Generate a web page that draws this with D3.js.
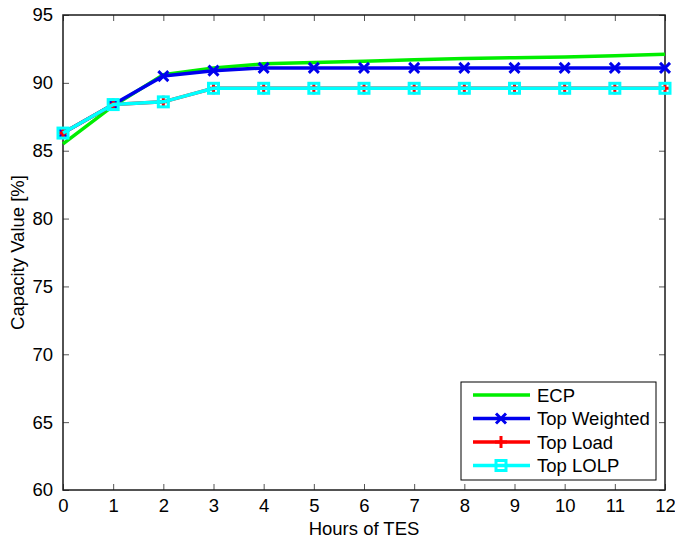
<!DOCTYPE html>
<html>
<head>
<meta charset="utf-8">
<script src="https://cdn.jsdelivr.net/npm/d3@7"></script>
<style>
  body { margin: 0; background: #fff; }
  text { font-family: "Liberation Sans", Arial, sans-serif; }
</style>
</head>
<body>
<div id="chart"></div>
<script>
const hours = [0, 1, 2, 3, 4, 5, 6, 7, 8, 9, 10, 11, 12];
const ecp = [85.5, 88.3, 90.6, 91.1, 91.4, 91.5, 91.6, 91.7, 91.8, 91.85, 91.9, 92.0, 92.1];
const topWeighted = [86.3, 88.4, 90.5, 90.9, 91.1, 91.1, 91.1, 91.1, 91.1, 91.1, 91.1, 91.1, 91.1];
const topLoad = [86.3, 88.4, 88.6, 89.6, 89.6, 89.6, 89.6, 89.6, 89.6, 89.6, 89.6, 89.6, 89.6];
const topLolp = [86.3, 88.4, 88.6, 89.6, 89.6, 89.6, 89.6, 89.6, 89.6, 89.6, 89.6, 89.6, 89.6];
const yTicks = [60, 65, 70, 75, 80, 85, 90, 95];

const series = [
  { name: 'ECP', values: ecp, color: '#00ee00', marker: 'none' },
  { name: 'Top Weighted', values: topWeighted, color: '#0000ee', marker: 'x' },
  { name: 'Top Load', values: topLoad, color: '#ff0000', marker: 'plus' },
  { name: 'Top LOLP', values: topLolp, color: '#00ffff', marker: 'square' }
];

const width = 675;
const height = 540;
const margin = { top: 15, right: 10, bottom: 50, left: 63 };
const w = width - margin.left - margin.right;
const h = height - margin.top - margin.bottom;
const fs = 18.5;

const svg = d3.select('#chart')
  .append('svg')
  .attr('width', width)
  .attr('height', height);

const g = svg.append('g')
  .attr('transform', `translate(${margin.left},${margin.top})`);

const x = d3.scaleLinear().domain([0, 12]).range([0, w]);
const y = d3.scaleLinear().domain([60, 95]).range([h, 0]);

// ticks inward on all four sides (matlab box)
const tickLen = 6;
const xAxis = g.append('g').attr('transform', `translate(0,${h})`)
  .call(d3.axisBottom(x).tickValues(hours).tickSize(-tickLen).tickPadding(9));
const xTop = g.append('g')
  .call(d3.axisTop(x).tickValues(hours).tickSize(-tickLen).tickFormat(''));
const yAxis = g.append('g')
  .call(d3.axisLeft(y).tickValues(yTicks).tickSize(-tickLen).tickPadding(10));
const yRight = g.append('g').attr('transform', `translate(${w},0)`)
  .call(d3.axisRight(y).tickValues(yTicks).tickSize(-tickLen).tickFormat(''));

[xAxis, xTop, yAxis, yRight].forEach(a => {
  a.select('.domain').remove();
  a.selectAll('.tick line').attr('stroke', '#555').attr('stroke-width', 1);
  a.selectAll('.tick text').attr('font-size', fs).attr('fill', '#000');
});

g.append('rect')
  .attr('width', w).attr('height', h)
  .attr('fill', 'none').attr('stroke', '#1a1a1a').attr('stroke-width', 1.5);

// labels
svg.append('text')
  .attr('x', margin.left + w / 2).attr('y', 535)
  .attr('text-anchor', 'middle').attr('font-size', fs)
  .text('Hours of TES');
svg.append('text')
  .attr('transform', `translate(24,${margin.top + h / 2}) rotate(-90)`)
  .attr('text-anchor', 'middle').attr('font-size', fs)
  .text('Capacity Value [%]');

function drawMarker(sel, type, color) {
  if (type === 'x') {
    sel.append('path').attr('d', 'M-5,-5L5,5M-5,5L5,-5')
      .attr('stroke', color).attr('stroke-width', 3).attr('fill', 'none');
  } else if (type === 'plus') {
    sel.append('path').attr('d', 'M-6,0L6,0M0,-6L0,6')
      .attr('stroke', color).attr('stroke-width', 3).attr('fill', 'none');
  } else if (type === 'square') {
    sel.append('rect').attr('x', -5).attr('y', -5).attr('width', 10).attr('height', 10)
      .attr('stroke', color).attr('stroke-width', 3).attr('fill', 'none');
  }
}

const line = d3.line().x((d, i) => x(hours[i])).y(d => y(d));

series.forEach(s => {
  const sg = g.append('g');
  sg.append('path').datum(s.values)
    .attr('d', line)
    .attr('fill', 'none')
    .attr('stroke', s.color)
    .attr('stroke-width', 3.5);
  if (s.marker !== 'none') {
    sg.selectAll('g.m').data(s.values).enter().append('g')
      .attr('transform', (d, i) => `translate(${x(hours[i])},${y(d)})`)
      .each(function() { drawMarker(d3.select(this), s.marker, s.color); });
  }
});

// legend
const lg = svg.append('g').attr('transform', 'translate(461,382)');
lg.append('rect').attr('width', 195).attr('height', 98)
  .attr('fill', '#fff').attr('stroke', '#000').attr('stroke-width', 1);
series.forEach((s, i) => {
  const ly = 13 + i * 23.5;
  lg.append('line').attr('x1', 12).attr('x2', 69).attr('y1', ly).attr('y2', ly)
    .attr('stroke', s.color).attr('stroke-width', 3.5);
  if (s.marker !== 'none') {
    const m = lg.append('g').attr('transform', `translate(40,${ly})`);
    drawMarker(m, s.marker, s.color);
  }
  lg.append('text').attr('x', 76).attr('y', ly + 6.5).attr('font-size', fs)
    .text(s.name);
});
</script>
</body>
</html>
